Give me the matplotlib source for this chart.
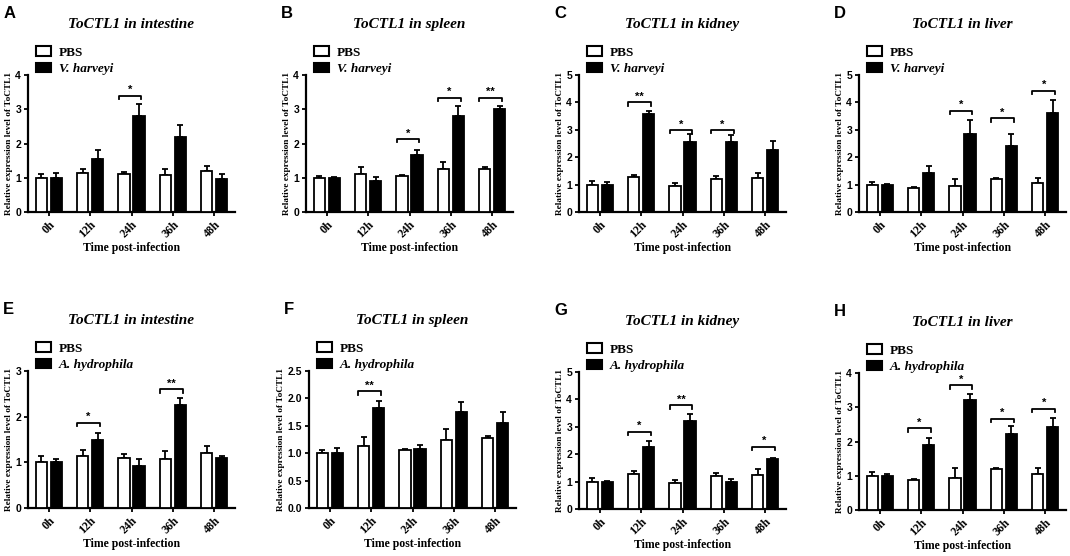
import numpy as np
import matplotlib as mpl

mpl.use("Agg")

import matplotlib.pyplot as plt
from matplotlib.patches import Patch

# ================================
# 数据
# ================================
TIMES = ["0h", "12h", "24h", "36h", "48h"]

# A: intestine, V. harveyi
a_pbs = [1.00, 1.15, 1.10, 1.08, 1.20]
a_pbs_err = [0.12, 0.12, 0.08, 0.17, 0.15]
a_inf = [1.00, 1.55, 2.80, 2.20, 0.97]
a_inf_err = [0.15, 0.27, 0.35, 0.35, 0.13]
a_sig = [(2, "*", 3.40)]

# B: spleen, V. harveyi
b_pbs = [1.00, 1.12, 1.05, 1.25, 1.27]
b_pbs_err = [0.05, 0.18, 0.03, 0.20, 0.03]
b_inf = [1.00, 0.90, 1.65, 2.80, 3.00]
b_inf_err = [0.03, 0.12, 0.17, 0.30, 0.10]
b_sig = [(2, "*", 2.13), (3, "*", 3.34), (4, "**", 3.34)]

# C: kidney, V. harveyi
c_pbs = [1.00, 1.28, 0.95, 1.20, 1.25]
c_pbs_err = [0.12, 0.07, 0.10, 0.10, 0.17]
c_inf = [1.00, 3.57, 2.55, 2.55, 2.25]
c_inf_err = [0.08, 0.13, 0.30, 0.25, 0.33]
c_sig = [(1, "**", 4.01), (2, "*", 2.99), (3, "*", 2.99)]

# D: liver, V. harveyi
d_pbs = [1.00, 0.87, 0.95, 1.20, 1.05]
d_pbs_err = [0.10, 0.03, 0.27, 0.05, 0.20]
d_inf = [1.00, 1.42, 2.83, 2.40, 3.60]
d_inf_err = [0.02, 0.26, 0.54, 0.43, 0.47]
d_sig = [(2, "*", 3.69), (3, "*", 3.42), (4, "*", 4.42)]

# E: intestine, A. hydrophila
e_pbs = [1.00, 1.13, 1.10, 1.08, 1.20]
e_pbs_err = [0.13, 0.14, 0.08, 0.17, 0.15]
e_inf = [1.00, 1.50, 0.93, 2.25, 1.10]
e_inf_err = [0.08, 0.15, 0.14, 0.15, 0.04]
e_sig = [(1, "*", 1.87), (3, "**", 2.60)]

# F: spleen, A. hydrophila
f_pbs = [1.00, 1.13, 1.06, 1.25, 1.27]
f_pbs_err = [0.06, 0.17, 0.01, 0.20, 0.05]
f_inf = [1.00, 1.82, 1.07, 1.75, 1.55]
f_inf_err = [0.09, 0.14, 0.08, 0.18, 0.20]
f_sig = [(1, "**", 2.13)]

# G: kidney, A. hydrophila
g_pbs = [1.00, 1.28, 0.95, 1.20, 1.25]
g_pbs_err = [0.12, 0.09, 0.10, 0.10, 0.20]
g_inf = [1.00, 2.27, 3.22, 0.97, 1.82]
g_inf_err = [0.02, 0.23, 0.23, 0.13, 0.03]
g_sig = [(1, "*", 2.82), (2, "**", 3.79), (4, "*", 2.28)]

# H: liver, A. hydrophila
h_pbs = [1.00, 0.87, 0.93, 1.20, 1.04]
h_pbs_err = [0.10, 0.03, 0.29, 0.04, 0.20]
h_inf = [1.00, 1.90, 3.22, 2.22, 2.43]
h_inf_err = [0.05, 0.20, 0.16, 0.23, 0.27]
h_sig = [(1, "*", 2.39), (2, "*", 3.64), (3, "*", 2.66), (4, "*", 2.95)]

# ================================
# 面板配置
# ================================
panels = [
    ("A", "intestine", "V. harveyi", 4, [0, 1, 2, 3, 4], "%d", a_pbs, a_pbs_err, a_inf, a_inf_err, a_sig),
    ("B", "spleen", "V. harveyi", 4, [0, 1, 2, 3, 4], "%d", b_pbs, b_pbs_err, b_inf, b_inf_err, b_sig),
    ("C", "kidney", "V. harveyi", 5, [0, 1, 2, 3, 4, 5], "%d", c_pbs, c_pbs_err, c_inf, c_inf_err, c_sig),
    ("D", "liver", "V. harveyi", 5, [0, 1, 2, 3, 4, 5], "%d", d_pbs, d_pbs_err, d_inf, d_inf_err, d_sig),
    ("E", "intestine", "A. hydrophila", 3, [0, 1, 2, 3], "%d", e_pbs, e_pbs_err, e_inf, e_inf_err, e_sig),
    ("F", "spleen", "A. hydrophila", 2.5, [0, 0.5, 1.0, 1.5, 2.0, 2.5], "%.1f", f_pbs, f_pbs_err, f_inf, f_inf_err, f_sig),
    ("G", "kidney", "A. hydrophila", 5, [0, 1, 2, 3, 4, 5], "%d", g_pbs, g_pbs_err, g_inf, g_inf_err, g_sig),
    ("H", "liver", "A. hydrophila", 4, [0, 1, 2, 3, 4], "%d", h_pbs, h_pbs_err, h_inf, h_inf_err, h_sig),
]

SERIF = ["Liberation Serif", "DejaVu Serif"]
SANS = ["Liberation Sans", "DejaVu Sans"]

W, H = 1070, 556
fig = plt.figure(figsize=(W / 100, H / 100), dpi=100)

lefts = [28, 306, 579, 859, 28, 309, 579, 859]
tops = [75, 75, 75, 75, 371, 371, 372, 373]
ax_w = 207
ax_h = 137

bar_w = 0.27
off = 0.18
x = np.arange(len(TIMES))

for k, (letter, organ, pathogen, ymax, yticks, yfmt, pbs, pbs_err, inf, inf_err, sig) in enumerate(panels):
    ax = fig.add_axes([lefts[k] / W, 1 - (tops[k] + ax_h) / H, ax_w / W, ax_h / H])

    ax.bar(x - off, pbs, width=bar_w, color="white", edgecolor="black", linewidth=1.3, zorder=3)
    ax.bar(x + off, inf, width=bar_w, color="black", edgecolor="black", linewidth=1.3, zorder=3)
    ax.errorbar(x - off, pbs, yerr=[np.zeros(len(pbs)), pbs_err], fmt="none",
                ecolor="black", elinewidth=1.3, capsize=2.5, capthick=1.3, zorder=2)
    ax.errorbar(x + off, inf, yerr=[np.zeros(len(inf)), inf_err], fmt="none",
                ecolor="black", elinewidth=1.3, capsize=2.5, capthick=1.3, zorder=2)

    # 显著性括号
    d = ymax * 0.025
    for gi, lab, yy in sig:
        x0, x1 = gi - 0.31, gi + 0.24
        ax.plot([x0, x0, x1, x1], [yy - d, yy, yy, yy - d], color="black", lw=1.3,
                clip_on=False, zorder=4)
        ax.text((x0 + x1) / 2, yy + ymax * 0.005, lab, ha="center", va="bottom",
                fontsize=8, fontweight="bold", family=SANS)

    ax.set_xlim(-0.5, len(TIMES) - 0.5)
    ax.set_ylim(0, ymax)
    ax.set_yticks(yticks)
    ax.set_yticklabels([yfmt % v for v in yticks], fontsize=7.5, fontweight="bold", family=SANS)
    ax.set_xticks(x)
    ax.set_xticklabels(TIMES, rotation=45, ha="right", va="top", rotation_mode="anchor",
                       fontsize=8.5, fontweight="bold", family=SERIF)
    ax.tick_params(axis="both", direction="out", length=3, width=1.3, pad=2)
    for s in ["top", "right"]:
        ax.spines[s].set_visible(False)
    for s in ["left", "bottom"]:
        ax.spines[s].set_linewidth(1.6)

    ax.set_xlabel("Time post-infection", fontsize=8.5, fontweight="bold", family=SERIF, labelpad=1)
    ax.set_ylabel("Relative expression level of ToCTL1", fontsize=6.7, fontweight="bold",
                  family=SERIF, labelpad=2)

    ax.text(0.5, 1.37, "ToCTL1 in " + organ, transform=ax.transAxes, ha="center", va="center",
            fontsize=11, fontweight="bold", fontstyle="italic", family=SERIF)
    ax.text(-0.12, 1.45, letter, transform=ax.transAxes, ha="left", va="center",
            fontsize=12, fontweight="bold", family=SANS)

    handles = [Patch(facecolor="white", edgecolor="black", linewidth=1.5),
               Patch(facecolor="black", edgecolor="black", linewidth=1.5)]
    leg = ax.legend(handles, ["PBS", pathogen], loc="lower left", bbox_to_anchor=(0.04, 1.0),
                    frameon=False, handlelength=1.15, handleheight=0.75, handletextpad=0.55,
                    labelspacing=0.3, borderaxespad=0, borderpad=0,
                    prop={"family": SERIF, "weight": "bold", "size": 9.5})
    leg.get_texts()[1].set_fontstyle("italic")

fig.savefig("out.png", dpi=100)
